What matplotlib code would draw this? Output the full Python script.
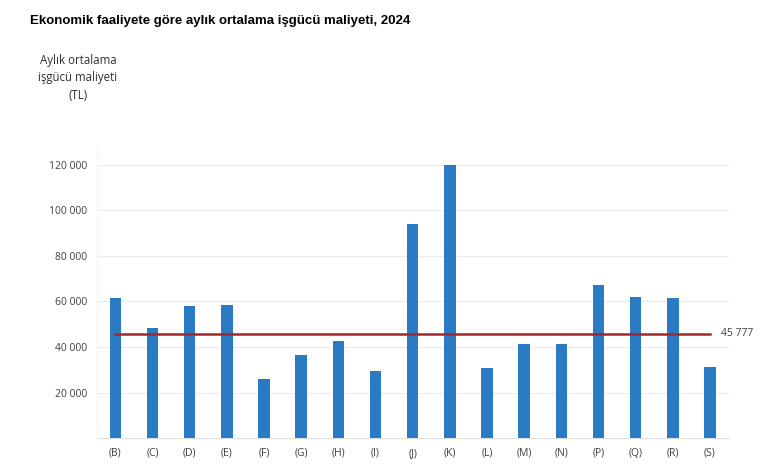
import matplotlib
matplotlib.use("Agg")
import matplotlib.pyplot as plt
import numpy as np

# Sektörler (NACE Rev.2 kısımları) ve aylık ortalama işgücü maliyeti (TL)
sectors = ["(B)", "(C)", "(D)", "(E)", "(F)", "(G)", "(H)", "(I)", "(J)",
           "(K)", "(L)", "(M)", "(N)", "(P)", "(Q)", "(R)", "(S)"]
costs = [61600, 48400, 57800, 58500, 26000, 36400, 42500, 29300, 94100,
         120100, 30600, 41500, 41500, 67400, 62000, 61300, 31100]
average = 45777
yticks = [20000, 40000, 60000, 80000, 100000, 120000]

plt.rcParams['font.family'] = ['Open Sans', 'DejaVu Sans']

fig = plt.figure(figsize=(7.8, 4.7), dpi=100)
ax = fig.add_axes([0.124, 0.068, 0.81, 0.62])

x = np.arange(len(sectors))
ax.bar(x, costs, width=0.31, color='#2b7bc4', zorder=3)
ax.plot([x[0], x[-1]], [average, average], color='#a3262a', linewidth=1.8, zorder=4)
ax.text(x[-1] + 0.3, average, f"{average:,}".replace(",", " "),
        va='center', ha='left', fontsize=7.5, color='#404040')

ax.set_xlim(-0.5, len(sectors) - 0.5)
ax.set_ylim(0, 128000)
ax.set_xticks(x)
ax.set_xticklabels(sectors, fontsize=7.5, color='#404040')
ax.set_yticks(yticks)
ax.set_yticklabels([f"{t:,}".replace(",", " ") for t in yticks],
                   fontsize=7.5, color='#404040')
ax.tick_params(length=0, pad=7)
ax.grid(axis='y', color='#ececec', linewidth=0.8, zorder=0)
for s in ['top', 'right']:
    ax.spines[s].set_visible(False)
ax.spines['left'].set_color('#f3f3f3')
ax.spines['bottom'].set_color('#e0e0e0')

fig.text(0.038, 0.955, "Ekonomik faaliyete göre aylık ortalama işgücü maliyeti, 2024",
         fontsize=9.5, fontweight='bold', family=['Liberation Sans', 'DejaVu Sans'],
         ha='left', va='center')
fig.text(0.1, 0.835, "Aylık ortalama\nişgücü maliyeti\n(TL)", fontsize=8.3,
         ha='center', va='center', color='#303030', linespacing=1.45)

fig.savefig("out.png", dpi=100)
